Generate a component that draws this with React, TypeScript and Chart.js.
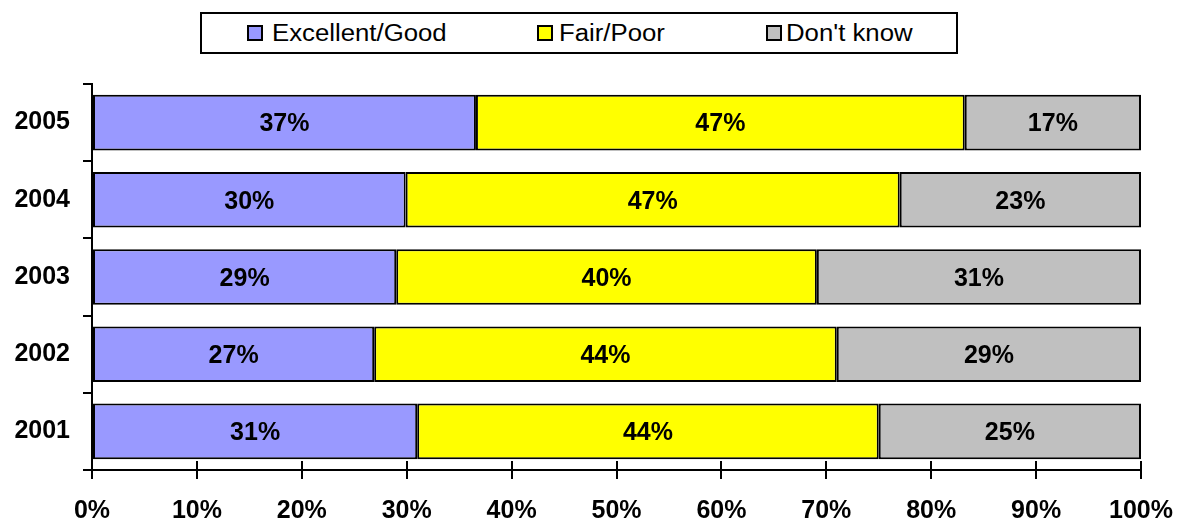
import React, { useEffect, useRef } from "react";
import { Chart, registerables } from "chart.js";

Chart.register(...registerables);

const years = ["2005", "2004", "2003", "2002", "2001"];
const excellentGood = [36.6, 29.9, 29.0, 26.9, 31.0];
const fairPoor = [46.6, 47.1, 40.1, 44.1, 44.0];
const dontKnow = [16.8, 23.0, 30.9, 29.0, 25.0];
const seriesNames = ["Excellent/Good", "Fair/Poor", "Don't know"];
const seriesColors = ["#9999FF", "#FFFF00", "#C0C0C0"];
const xTickValues = [0, 10, 20, 30, 40, 50, 60, 70, 80, 90, 100];

const FONT = "'Liberation Sans', Arial, sans-serif";

const barLabels = {
  id: "barLabels",
  afterDatasetsDraw(chart: any) {
    const ctx = chart.ctx;
    ctx.save();
    ctx.font = `bold 25px ${FONT}`;
    ctx.fillStyle = "#000";
    ctx.textAlign = "center";
    ctx.textBaseline = "middle";
    chart.data.datasets.forEach((ds: any, di: number) => {
      const meta = chart.getDatasetMeta(di);
      meta.data.forEach((el: any, i: number) => {
        const v = ds.data[i];
        const cx = (el.x + el.base) / 2;
        ctx.fillText(Math.round(v) + "%", cx, el.y + 2);
      });
    });
    ctx.restore();
  },
};

const innerTicks = {
  id: "innerTicks",
  afterDraw(chart: any) {
    const ctx = chart.ctx;
    const x = chart.scales.x;
    const bottom = chart.chartArea.bottom;
    ctx.save();
    ctx.strokeStyle = "#000";
    ctx.lineWidth = 2;
    xTickValues.forEach((v) => {
      const px = Math.round(x.getPixelForValue(v));
      ctx.beginPath();
      ctx.moveTo(px, bottom - 9);
      ctx.lineTo(px, bottom);
      ctx.stroke();
    });
    ctx.restore();
  },
};

export default function App() {
  const ref = useRef<HTMLCanvasElement>(null);

  useEffect(() => {
    if (!ref.current) return;
    const chart = new Chart(ref.current, {
      type: "bar",
      data: {
        labels: years,
        datasets: [excellentGood, fairPoor, dontKnow].map((d, i) => ({
          label: seriesNames[i],
          data: d,
          backgroundColor: seriesColors[i],
          borderColor: "#000",
          borderWidth: 2,
          borderSkipped: false,
          barPercentage: 0.72,
          categoryPercentage: 1,
        })),
      },
      options: {
        indexAxis: "y",
        responsive: false,
        animation: false,
        layout: { padding: { top: 84, right: 36, bottom: 0, left: 0 } },
        plugins: {
          legend: { display: false },
          tooltip: { enabled: false },
        },
        scales: {
          x: {
            stacked: true,
            min: 0,
            max: 100,
            afterFit: (s: any) => {
              s.height = 50;
              s.paddingLeft = 0;
              s.paddingRight = 0;
            },
            afterBuildTicks: (s: any) => {
              s.ticks = xTickValues.map((v) => ({ value: v }));
            },
            ticks: {
              callback: (v: any) => v + "%",
              color: "#000",
              font: { family: FONT, size: 25, weight: "bold" },
              padding: 17,
              maxRotation: 0,
            },
            grid: {
              drawOnChartArea: false,
              drawTicks: true,
              tickLength: 9,
              color: "#000",
              lineWidth: 2,
            },
            border: { display: true, color: "#000", width: 2 },
          },
          y: {
            stacked: true,
            afterFit: (s: any) => {
              s.width = 92;
              s.paddingTop = 0;
              s.paddingBottom = 0;
            },
            ticks: {
              color: "#000",
              font: { family: FONT, size: 25, weight: "bold" },
              padding: 13,
            },
            grid: {
              offset: true,
              drawOnChartArea: false,
              drawTicks: true,
              tickLength: 9,
              color: "#000",
              lineWidth: 2,
            },
            border: { display: true, color: "#000", width: 2 },
          },
        },
      },
      plugins: [barLabels, innerTicks],
    } as any);
    return () => chart.destroy();
  }, []);

  const legendItems = [
    { sq: 247, tx: 272 },
    { sq: 537, tx: 559 },
    { sq: 766, tx: 786 },
  ];

  return (
    <div
      style={{
        position: "fixed",
        left: 0,
        top: 0,
        width: 1177,
        height: 520,
        background: "#fff",
        fontFamily: FONT,
      }}
    >
      <canvas ref={ref} width={1177} height={520} style={{ position: "absolute", left: 0, top: 0 }} />
      <div
        style={{
          position: "absolute",
          left: 200,
          top: 12,
          width: 758,
          height: 42,
          boxSizing: "border-box",
          border: "2px solid #000",
          background: "#fff",
        }}
      />
      {legendItems.map((it, i) => (
        <React.Fragment key={i}>
          <div
            style={{
              position: "absolute",
              left: it.sq,
              top: 25,
              width: 16,
              height: 16,
              boxSizing: "border-box",
              border: "2px solid #000",
              background: seriesColors[i],
            }}
          />
          <div
            style={{
              position: "absolute",
              left: it.tx,
              top: 18,
              height: 30,
              lineHeight: "30px",
              fontSize: 23,
              color: "#000",
              whiteSpace: "nowrap",
              transform: "scaleX(1.12)",
              transformOrigin: "left center",
            }}
          >
            {seriesNames[i]}
          </div>
        </React.Fragment>
      ))}
    </div>
  );
}
